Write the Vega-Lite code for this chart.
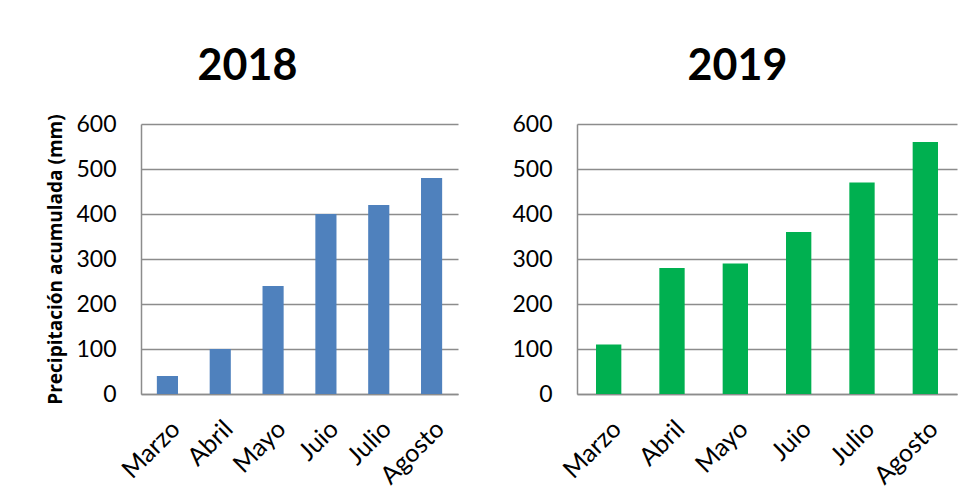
{
  "$schema": "https://vega.github.io/schema/vega-lite/v6.json",
  "datasets": {
    "d2018": [
      {"mes": "Marzo", "valor": 40},
      {"mes": "Abril", "valor": 100},
      {"mes": "Mayo", "valor": 240},
      {"mes": "Juio", "valor": 400},
      {"mes": "Julio", "valor": 420},
      {"mes": "Agosto", "valor": 480}
    ],
    "d2019": [
      {"mes": "Marzo", "valor": 110},
      {"mes": "Abril", "valor": 280},
      {"mes": "Mayo", "valor": 290},
      {"mes": "Juio", "valor": 360},
      {"mes": "Julio", "valor": 470},
      {"mes": "Agosto", "valor": 560}
    ]
  },
  "padding": {"left": 46, "top": 46, "right": 10, "bottom": 5},
  "spacing": 53,
  "background": "white",
  "config": {
    "font": "Lato",
    "view": {"stroke": null},
    "axis": {
      "labelFont": "Lato",
      "labelFontSize": 23,
      "labelColor": "black",
      "ticks": false,
      "domainColor": "#8c8c8c",
      "domainWidth": 1.5,
      "gridColor": "#8c8c8c",
      "gridWidth": 1.3,
      "titleFont": "Open Sans",
      "titleColor": "black"
    },
    "axisX": {"labelFontSize": 25},
    "title": {
      "font": "Lato",
      "fontSize": 43,
      "fontWeight": "bold",
      "color": "black",
      "anchor": "middle",
      "frame": "bounds",
      "offset": 24
    }
  },
  "hconcat": [
    {
      "width": 317,
      "height": 270,
      "title": {"text": "2018", "dx": -5},
      "data": {"name": "d2018"},
      "mark": {"type": "bar", "color": "#4F81BD"},
      "encoding": {
        "x": {
          "field": "mes",
          "type": "nominal",
          "sort": null,
          "scale": {"paddingInner": 0.6, "paddingOuter": 0.3},
          "axis": {"title": null, "labelAngle": -45, "labelPadding": 22, "grid": false}
        },
        "y": {
          "field": "valor",
          "type": "quantitative",
          "scale": {"domain": [0, 600]},
          "axis": {
            "title": "Precipitación acumulada (mm)",
            "titleFontSize": 19,
            "titleFontWeight": "bold",
            "titlePadding": 10,
            "labelPadding": 25,
            "values": [0, 100, 200, 300, 400, 500, 600],
            "grid": true
          }
        }
      }
    },
    {
      "width": 380,
      "height": 270,
      "title": {"text": "2019", "dx": 3},
      "data": {"name": "d2019"},
      "mark": {"type": "bar", "color": "#00B050"},
      "encoding": {
        "x": {
          "field": "mes",
          "type": "nominal",
          "sort": null,
          "scale": {"paddingInner": 0.6, "paddingOuter": 0.3},
          "axis": {"title": null, "labelAngle": -45, "labelPadding": 22, "grid": false}
        },
        "y": {
          "field": "valor",
          "type": "quantitative",
          "scale": {"domain": [0, 600]},
          "axis": {
            "title": null,
            "labelPadding": 25,
            "values": [0, 100, 200, 300, 400, 500, 600],
            "grid": true
          }
        }
      }
    }
  ]
}
